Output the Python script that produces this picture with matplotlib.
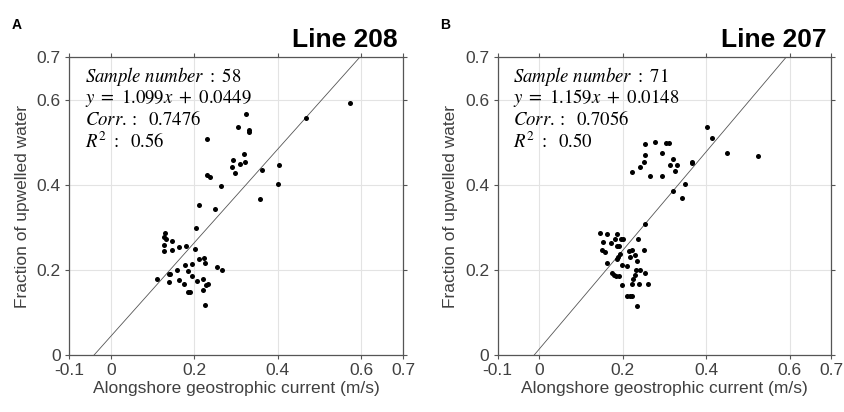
import numpy as np
import matplotlib.pyplot as plt

plt.rcParams['font.family'] = ['Liberation Sans', 'DejaVu Sans']
plt.rcParams['mathtext.fontset'] = 'stix'

# Line 208 (panel A)
x208 = [0.574, 0.467, 0.323, 0.305, 0.330, 0.330, 0.229, 0.318, 0.293, 0.308,
        0.322, 0.291, 0.296, 0.363, 0.402, 0.231, 0.237, 0.264, 0.400, 0.358,
        0.211, 0.249, 0.204, 0.130, 0.126, 0.132, 0.146, 0.126, 0.163, 0.180,
        0.201, 0.147, 0.126, 0.210, 0.222, 0.225, 0.177, 0.194, 0.158, 0.184,
        0.255, 0.265, 0.138, 0.142, 0.110, 0.193, 0.163, 0.175, 0.139, 0.205,
        0.220, 0.227, 0.233, 0.220, 0.185, 0.190, 0.226]
y208 = [0.592, 0.557, 0.566, 0.535, 0.529, 0.525, 0.508, 0.472, 0.458, 0.450,
        0.454, 0.443, 0.428, 0.436, 0.447, 0.424, 0.418, 0.398, 0.403, 0.368,
        0.354, 0.344, 0.299, 0.286, 0.277, 0.274, 0.269, 0.260, 0.253, 0.256,
        0.250, 0.248, 0.244, 0.227, 0.228, 0.217, 0.212, 0.214, 0.201, 0.197,
        0.208, 0.200, 0.190, 0.190, 0.179, 0.185, 0.176, 0.168, 0.171, 0.175,
        0.180, 0.166, 0.167, 0.152, 0.148, 0.148, 0.117]

# Line 207 (panel B)
x207 = [0.402, 0.414, 0.450, 0.525, 0.254, 0.278, 0.304, 0.311, 0.293, 0.254,
        0.321, 0.250, 0.312, 0.330, 0.242, 0.365, 0.366, 0.326, 0.221, 0.264,
        0.293, 0.348, 0.320, 0.342, 0.254, 0.145, 0.161, 0.186, 0.182, 0.195,
        0.200, 0.152, 0.172, 0.237, 0.186, 0.190, 0.150, 0.156, 0.215, 0.223,
        0.250, 0.194, 0.229, 0.218, 0.188, 0.186, 0.234, 0.162, 0.198, 0.209,
        0.232, 0.242, 0.174, 0.178, 0.184, 0.190, 0.254, 0.230, 0.224, 0.221,
        0.197, 0.239, 0.261, 0.210, 0.216, 0.222, 0.234]
y207 = [0.536, 0.510, 0.475, 0.469, 0.497, 0.501, 0.499, 0.499, 0.475, 0.470,
        0.460, 0.454, 0.446, 0.447, 0.443, 0.454, 0.451, 0.432, 0.431, 0.421,
        0.421, 0.402, 0.385, 0.369, 0.309, 0.286, 0.284, 0.285, 0.274, 0.274,
        0.274, 0.266, 0.264, 0.272, 0.256, 0.256, 0.248, 0.243, 0.244, 0.246,
        0.246, 0.237, 0.236, 0.230, 0.230, 0.226, 0.222, 0.216, 0.211, 0.210,
        0.200, 0.200, 0.193, 0.189, 0.186, 0.186, 0.192, 0.188, 0.178, 0.168,
        0.165, 0.167, 0.168, 0.138, 0.138, 0.138, 0.115]

panels = [
    dict(x=x208, y=y208, title="Line 208", tag="A", n=58, slope=1.099, icpt=0.0449,
         corr="0.7476", r2="0.56"),
    dict(x=x207, y=y207, title="Line 207", tag="B", n=71, slope=1.159, icpt=0.0148,
         corr="0.7056", r2="0.50"),
]

xticks = [-0.1, 0, 0.2, 0.4, 0.6, 0.7]
xticklabels = ["-0.1", "0", "0.2", "0.4", "0.6", "0.7"]
yticks = [0, 0.2, 0.4, 0.6, 0.7]
yticklabels = ["0", "0.2", "0.4", "0.6", "0.7"]

gray = '#404040'
fig = plt.figure(figsize=(8.45, 4.12), dpi=100)
lefts = [0.082, 0.589]

for left, p in zip(lefts, panels):
    ax = fig.add_axes([left, 0.138, 0.395, 0.723])
    ax.set_xlim(-0.1, 0.7)
    ax.set_ylim(0, 0.7)
    ax.grid(True, color='#e3e3e3', lw=0.8)
    ax.set_axisbelow(True)

    # regression line, only drawn between y=0 and y=0.7
    yl = np.array([0, 0.7])
    xl = (yl - p['icpt']) / p['slope']
    ax.plot(xl, yl, color='#555555', lw=0.6)
    ax.scatter(p['x'], p['y'], s=13, color='k', zorder=3, linewidths=0)

    ax.set_xticks(xticks)
    ax.set_xticklabels(xticklabels)
    ax.set_yticks(yticks)
    ax.set_yticklabels(yticklabels)
    ax.tick_params(direction='out', length=3, width=0.8, colors='#555555',
                   labelcolor=gray, labelsize=12.5, top=True, right=True, pad=3)
    for s in ax.spines.values():
        s.set_color('#555555')
        s.set_linewidth(0.9)

    ax.set_xlabel("Alongshore geostrophic current (m/s)", fontsize=12.5, color=gray, labelpad=2)
    ax.set_ylabel("Fraction of upwelled water", fontsize=12.5, color=gray, labelpad=5)

    lines = [r"$Sample\ number\ :\ %d$" % p['n'],
             r"$y\ =\ %.3fx\ +\ %.4f$" % (p['slope'], p['icpt']),
             r"$Corr.:\ \ %s$" % p['corr'],
             r"$R^2\ :\ \ %s$" % p['r2']]
    for i, t in enumerate(lines):
        ax.text(0.046, 0.936 - i * 0.073, t, transform=ax.transAxes,
                fontsize=13.5, va='center', ha='left', color='k')

    ax.text(0.985, 1.035, p['title'], transform=ax.transAxes, ha='right',
            va='baseline', fontsize=19, fontweight='bold')
    fig.text(left - 0.068, 0.93, p['tag'], fontsize=10, fontweight='bold')

fig.savefig("out.png", dpi=100)
